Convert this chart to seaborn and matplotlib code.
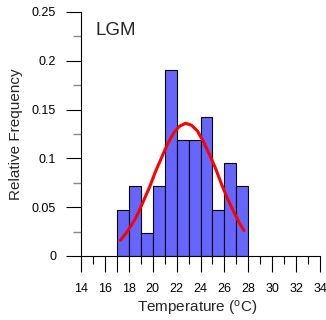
import matplotlib
matplotlib.use('Agg')
import matplotlib.pyplot as plt
import numpy as np
import pandas as pd
import seaborn as sns
from matplotlib.ticker import FixedLocator, FuncFormatter

# ---- data ----
bin_left = [17, 18, 19, 20, 21, 22, 23, 24, 25, 26, 27]
rel_freq = [0.0476, 0.0714, 0.0238, 0.0714, 0.1905, 0.1190,
            0.1190, 0.1429, 0.0476, 0.0952, 0.0714]

curve_x = [17.3, 17.75, 18.25, 18.75, 19.25, 19.75, 20.25, 20.75, 21.25,
           21.75, 22.25, 22.75, 23.25, 23.75, 24.25, 24.75, 25.25, 25.75,
           26.25, 26.75, 27.25, 27.65]
curve_y = [0.016, 0.023, 0.032, 0.043, 0.057, 0.071, 0.087, 0.101, 0.115,
           0.126, 0.133, 0.136, 0.134, 0.128, 0.117, 0.104, 0.090, 0.074,
           0.059, 0.046, 0.034, 0.026]

x_major = [14, 16, 17, 18, 20, 22, 24, 26, 28, 30, 32, 34]
x_minor = [15, 19, 21, 23, 25, 27, 29, 31, 33]
y_major = [0, 0.05, 0.1, 0.15, 0.2, 0.25]
y_minor = [0.025, 0.075, 0.125, 0.175, 0.225]

sns.set_style('ticks')
plt.rcParams['font.family'] = ['Liberation Sans', 'DejaVu Sans']
plt.rcParams['mathtext.fontset'] = 'custom'
plt.rcParams['mathtext.rm'] = 'Liberation Sans'
plt.rcParams['mathtext.it'] = 'Liberation Sans:italic'

fig = plt.figure(figsize=(3.26, 3.2), dpi=100)
ax = fig.add_axes([81 / 326, 64 / 320, 239 / 326, 244 / 320])

df = pd.DataFrame({'t': [b + 0.5 for b in bin_left], 'f': rel_freq})
edges = bin_left + [bin_left[-1] + 1]
sns.histplot(data=df, x='t', weights='f', bins=edges, stat='count',
             color='#6666ff', edgecolor='black', linewidth=0.8, alpha=1, ax=ax)

sns.lineplot(x=curve_x, y=curve_y, color='#ff0000', linewidth=2.2, ax=ax)

ax.set_xlim(14, 34)
ax.set_ylim(0, 0.25)
for s in ['top', 'right']:
    ax.spines[s].set_visible(False)
for s in ['left', 'bottom']:
    ax.spines[s].set_linewidth(0.8)
    ax.spines[s].set_color('black')

ax.xaxis.set_major_locator(FixedLocator(x_major))
ax.xaxis.set_minor_locator(FixedLocator(x_minor))
ax.xaxis.set_major_formatter(FuncFormatter(lambda v, p: '' if int(round(v)) % 2 else f'{v:g}'))
ax.yaxis.set_major_locator(FixedLocator(y_major))
ax.yaxis.set_minor_locator(FixedLocator(y_minor))
ax.yaxis.set_major_formatter(FuncFormatter(lambda v, p: f'{v:g}'))

ax.tick_params(axis='x', which='major', direction='out', length=11.5, width=0.8,
               pad=8, labelsize=9, colors='black', bottom=True)
ax.tick_params(axis='x', which='minor', direction='out', length=5.8, width=0.8,
               color='black', bottom=True)
ax.tick_params(axis='y', which='major', direction='out', length=11, width=0.8,
               pad=7, labelsize=9, colors='black', left=True)
ax.tick_params(axis='y', which='minor', direction='out', length=5.5, width=1.0,
               color='#888888', left=True)

ax.set_xlabel(r'Temperature ($^{\mathrm{o}}$C)', fontsize=11)
ax.set_ylabel('Relative Frequency', fontsize=11)
ax.xaxis.set_label_coords(0.485, -0.2336)
ax.xaxis.label.set_va('baseline')
ax.yaxis.set_label_coords(-0.243, 0.5)

ax.text(15.25, 0.2264, 'LGM', fontsize=13.5, va='baseline', ha='left')

fig.savefig('out.png', dpi=100)
